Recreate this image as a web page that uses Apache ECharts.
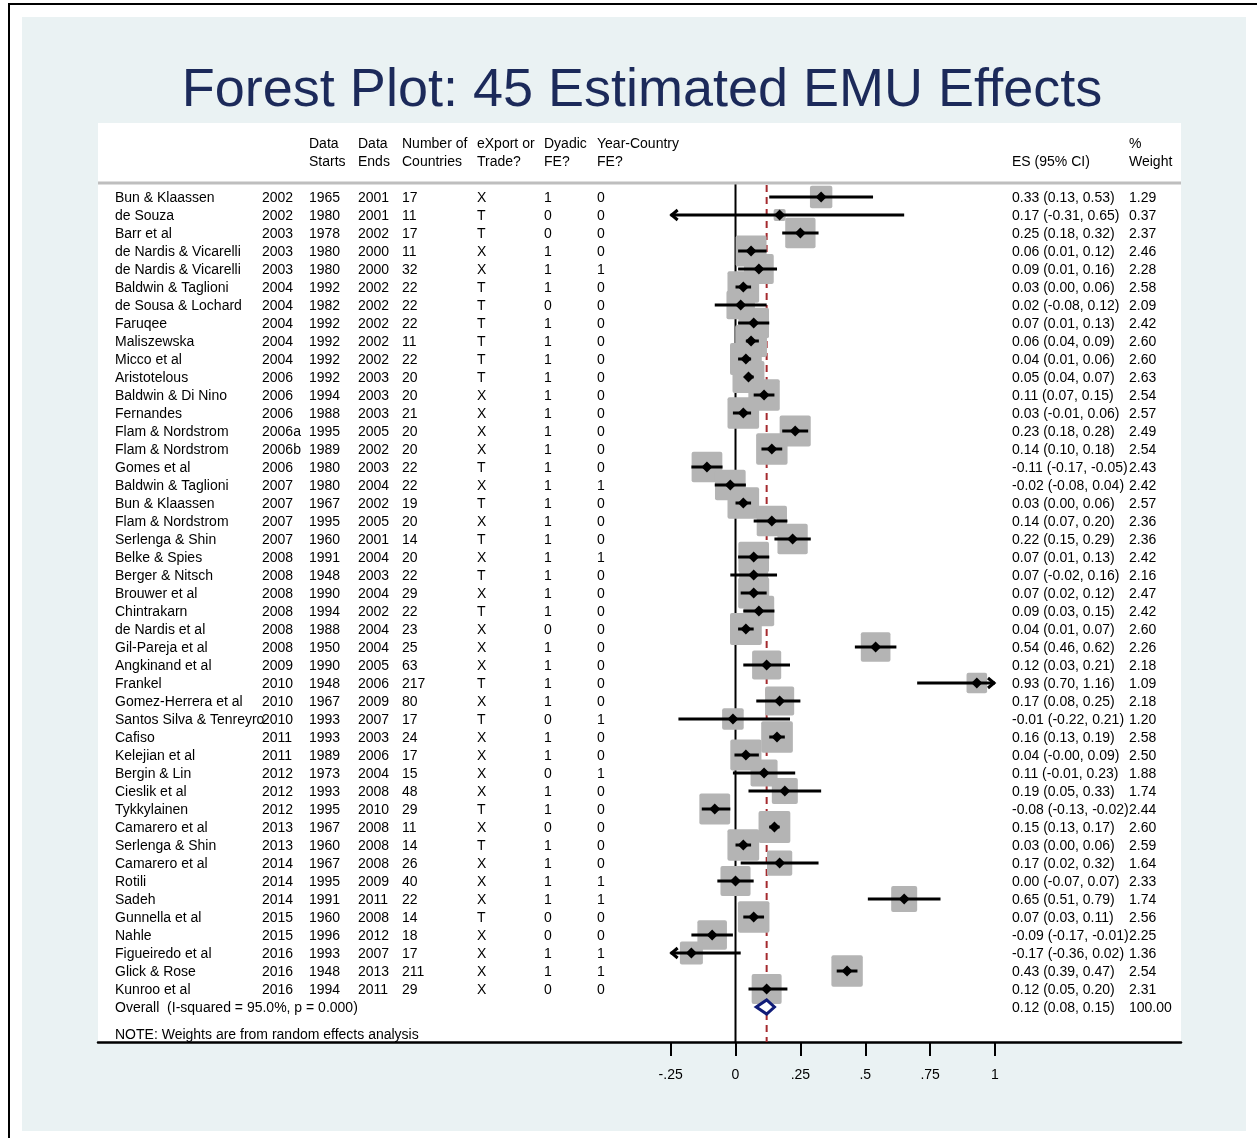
<!DOCTYPE html>
<html><head><meta charset="utf-8">
<script src="https://cdn.jsdelivr.net/npm/echarts@6/dist/echarts.min.js"></script>
<style>html,body{margin:0;padding:0;background:#fff}#c{width:1257px;height:1138px}</style>
</head><body><div id="c"></div>
<script>
// ---------------- data ----------------
const studies = ['Bun & Klaassen','de Souza','Barr et al','de Nardis & Vicarelli','de Nardis & Vicarelli','Baldwin & Taglioni','de Sousa & Lochard','Faruqee','Maliszewska','Micco et al','Aristotelous','Baldwin & Di Nino','Fernandes','Flam & Nordstrom','Flam & Nordstrom','Gomes et al','Baldwin & Taglioni','Bun & Klaassen','Flam & Nordstrom','Serlenga & Shin','Belke & Spies','Berger & Nitsch','Brouwer et al','Chintrakarn','de Nardis et al','Gil-Pareja et al','Angkinand et al','Frankel','Gomez-Herrera et al','Santos Silva & Tenreyro','Cafiso','Kelejian et al','Bergin & Lin','Cieslik et al','Tykkylainen','Camarero et al','Serlenga & Shin','Camarero et al','Rotili','Sadeh','Gunnella et al','Nahle','Figueiredo et al','Glick & Rose','Kunroo et al'];
const pubYear = ['2002','2002','2003','2003','2003','2004','2004','2004','2004','2004','2006','2006','2006','2006a','2006b','2006','2007','2007','2007','2007','2008','2008','2008','2008','2008','2008','2009','2010','2010','2010','2011','2011','2012','2012','2012','2013','2013','2014','2014','2014','2015','2015','2016','2016','2016'];
const dataStart = [1965,1980,1978,1980,1980,1992,1982,1992,1992,1992,1992,1994,1988,1995,1989,1980,1980,1967,1995,1960,1991,1948,1990,1994,1988,1950,1990,1948,1967,1993,1993,1989,1973,1993,1995,1967,1960,1967,1995,1991,1960,1996,1993,1948,1994];
const dataEnd = [2001,2001,2002,2000,2000,2002,2002,2002,2002,2002,2003,2003,2003,2005,2002,2003,2004,2002,2005,2001,2004,2003,2004,2002,2004,2004,2005,2006,2009,2007,2003,2006,2004,2008,2010,2008,2008,2008,2009,2011,2008,2012,2007,2013,2011];
const nCountries = [17,11,17,11,32,22,22,22,11,22,20,20,21,20,20,22,22,19,20,14,20,22,29,22,23,25,63,217,80,17,24,17,15,48,29,11,14,26,40,22,14,18,17,211,29];
const exportTrade = ['X','T','T','X','X','T','T','T','T','T','T','X','X','X','X','T','X','T','X','T','X','T','X','T','X','X','X','T','X','T','X','X','X','X','T','X','T','X','X','X','T','X','X','X','X'];
const dyadicFE = [1,0,0,1,1,1,0,1,1,1,1,1,1,1,1,1,1,1,1,1,1,1,1,1,0,1,1,1,1,0,1,1,0,1,1,0,1,1,1,1,0,0,1,1,0];
const yearCountryFE = [0,0,0,0,1,0,0,0,0,0,0,0,0,0,0,0,1,0,0,0,1,0,0,0,0,0,0,0,0,1,0,0,1,0,0,0,0,0,1,1,0,0,1,1,0];
const es = [0.33,0.17,0.25,0.06,0.09,0.03,0.02,0.07,0.06,0.04,0.05,0.11,0.03,0.23,0.14,-0.11,-0.02,0.03,0.14,0.22,0.07,0.07,0.07,0.09,0.04,0.54,0.12,0.93,0.17,-0.01,0.16,0.04,0.11,0.19,-0.08,0.15,0.03,0.17,0.00,0.65,0.07,-0.09,-0.17,0.43,0.12];
const ciLow = [0.13,-0.31,0.18,0.01,0.01,0.00,-0.08,0.01,0.04,0.01,0.04,0.07,-0.01,0.18,0.10,-0.17,-0.08,0.00,0.07,0.15,0.01,-0.02,0.02,0.03,0.01,0.46,0.03,0.70,0.08,-0.22,0.13,-0.004,-0.01,0.05,-0.13,0.13,0.00,0.02,-0.07,0.51,0.03,-0.17,-0.36,0.39,0.05];
const ciHigh = [0.53,0.65,0.32,0.12,0.16,0.06,0.12,0.13,0.09,0.06,0.07,0.15,0.06,0.28,0.18,-0.05,0.04,0.06,0.20,0.29,0.13,0.16,0.12,0.15,0.07,0.62,0.21,1.16,0.25,0.21,0.19,0.09,0.23,0.33,-0.02,0.17,0.06,0.32,0.07,0.79,0.11,-0.01,0.02,0.47,0.20];
const weight = [1.29,0.37,2.37,2.46,2.28,2.58,2.09,2.42,2.60,2.60,2.63,2.54,2.57,2.49,2.54,2.43,2.42,2.57,2.36,2.36,2.42,2.16,2.47,2.42,2.60,2.26,2.18,1.09,2.18,1.20,2.58,2.50,1.88,1.74,2.44,2.60,2.59,1.64,2.33,1.74,2.56,2.25,1.36,2.54,2.31];
const overallLabel = 'Overall  (I-squared = 95.0%, p = 0.000)';
const overallES = 0.12, overallLow = 0.08, overallHigh = 0.15, overallWeight = 100.00;
const tickValues = [-0.25, 0, 0.25, 0.5, 0.75, 1];
const tickLabels = ['-.25', '0', '.25', '.5', '.75', '1'];
const headerLine1 = ['Data', 'Data', 'Number of', 'eXport or', 'Dyadic', 'Year-Country', '', '%'];
const headerLine2 = ['Starts', 'Ends', 'Countries', 'Trade?', 'FE?', 'FE?', 'ES (95% CI)', 'Weight'];
const titleText = 'Forest Plot: 45 Estimated EMU Effects';
const noteText = 'NOTE: Weights are from random effects analysis';

// ---------------- layout ----------------
const FONT = '14px "Liberation Sans", Arial, Helvetica, sans-serif';
const colX = [115, 262, 309, 358, 402, 477, 544, 597, 1012, 1129];
const headX = [309, 358, 402, 477, 544, 597, 1012, 1129];
const clipMin = -0.25, clipMax = 1.0;      // plotted CI range
const xMin = -2.4568, xMax = 1.7168;       // axis extent across the panel
const yMin = -4.111, yMax = 46.944;        // row axis extent
const ruleRow = -0.78;                     // header rule row position
const overallRow = studies.length;
const textDy = 1;
const fmt = v => v.toFixed(2);

const chart = echarts.init(document.getElementById('c'), null, {renderer: 'canvas'});

function txt(x, y, t, extra) {
  return Object.assign({type: 'text', x: x, y: y, style: {text: t, font: FONT, fill: '#000', align: 'left', verticalAlign: 'middle'}}, extra || {});
}

const rowData = studies.map((s, i) => [i, es[i], ciLow[i], ciHigh[i], weight[i]]);

const option = {
  animation: false,
  backgroundColor: '#ffffff',
  grid: {left: 98, right: 1257 - 1181, top: 123, bottom: 1138 - 1042, containLabel: false},
  xAxis: {
    type: 'value', min: xMin, max: xMax,
    axisLine: {show: true, onZero: false, lineStyle: {color: '#000', width: 2.5}},
    axisTick: {show: true, customValues: tickValues, length: 14, lineStyle: {color: '#000', width: 2}},
    axisLabel: {show: true, customValues: tickValues, margin: 26, color: '#000', fontSize: 14,
      fontFamily: '"Liberation Sans", Arial, sans-serif',
      formatter: v => { const k = tickValues.findIndex(t => Math.abs(t - v) < 1e-9); return k >= 0 ? tickLabels[k] : ''; }},
    splitLine: {show: false}
  },
  yAxis: {type: 'value', min: yMin, max: yMax, inverse: true, show: false, splitLine: {show: false}},
  graphic: [
    {type: 'rect', z: -30, shape: {x: 9, y: 4, width: 1400, height: 1300}, style: {fill: '#fff', stroke: '#000', lineWidth: 2}, silent: true},
    {type: 'rect', z: -20, shape: {x: 22, y: 17, width: 1224, height: 1114}, style: {fill: '#EAF2F3'}, silent: true},
    {type: 'rect', z: -10, shape: {x: 98, y: 123, width: 1083, height: 919}, style: {fill: '#fff'}, silent: true},
    {type: 'text', z: 10, x: 642, y: 91, style: {text: titleText, font: '54px "Liberation Sans", Arial, sans-serif', fill: '#1C2A5A', align: 'center', verticalAlign: 'middle'}},
    {type: 'line', z: 5, shape: {x1: 98, y1: 183, x2: 1181, y2: 183}, style: {stroke: '#BEBEBE', lineWidth: 3}},
  ].concat(
    headerLine1.map((t, k) => txt(headX[k], 144, t, {z: 10})),
    headerLine2.map((t, k) => txt(headX[k], 162, t, {z: 10})),
    [txt(115, 1035, noteText, {z: 10})]
  ),
  series: [
    { // reference lines: null line and overall estimate
      type: 'custom', z: 1, clip: false,
      data: [[0, 0], [1, overallES]],
      renderItem: function (params, api) {
        const x = api.value(1);
        const p1 = api.coord([x, ruleRow]);
        const p2 = api.coord([x, yMax]);
        if (api.value(0) === 0) {
          return {type: 'line', shape: {x1: p1[0], y1: p1[1], x2: p2[0], y2: p2[1]}, style: {stroke: '#000', lineWidth: 2}};
        }
        return {type: 'line', shape: {x1: p1[0], y1: p1[1] + 2, x2: p2[0], y2: p2[1]}, style: {stroke: '#A52A2E', lineWidth: 2, lineDash: [7, 5]}};
      }
    },
    { // weight boxes
      type: 'custom', z: 2, clip: false,
      data: rowData,
      renderItem: function (params, api) {
        const c = api.coord([api.value(1), api.value(0)]);
        const rowPx = api.size([0, 1])[1];
        const s = rowPx * 1.095 * Math.sqrt(api.value(4));
        return {type: 'rect', shape: {x: c[0] - s / 2, y: c[1] - s / 2, width: s, height: s, r: 2}, style: {fill: '#B4B4B4'}};
      }
    },
    { // confidence intervals and point estimates
      type: 'custom', z: 3, clip: false,
      data: rowData,
      renderItem: function (params, api) {
        const i = api.value(0), e = api.value(1), lo = api.value(2), hi = api.value(3);
        const a = api.coord([Math.max(lo, clipMin), i]);
        const b = api.coord([Math.min(hi, clipMax), i]);
        const c = api.coord([e, i]);
        const kids = [
          {type: 'line', shape: {x1: a[0], y1: a[1], x2: b[0], y2: b[1]}, style: {stroke: '#000', lineWidth: 3}},
          {type: 'polygon', shape: {points: [[c[0], c[1] - 5.5], [c[0] + 5.5, c[1]], [c[0], c[1] + 5.5], [c[0] - 5.5, c[1]]]}, style: {fill: '#000'}}
        ];
        if (lo < clipMin) kids.push({type: 'polyline', shape: {points: [[a[0] + 7, a[1] - 5], [a[0] + 1, a[1]], [a[0] + 7, a[1] + 5]]}, style: {stroke: '#000', lineWidth: 3, fill: null}});
        if (hi > clipMax) kids.push({type: 'polyline', shape: {points: [[b[0] - 7, b[1] - 5], [b[0] - 1, b[1]], [b[0] - 7, b[1] + 5]]}, style: {stroke: '#000', lineWidth: 3, fill: null}});
        return {type: 'group', children: kids};
      }
    },
    { // overall diamond
      type: 'custom', z: 4, clip: false,
      data: [[overallRow, overallES, overallLow, overallHigh]],
      renderItem: function (params, api) {
        const i = api.value(0);
        const l = api.coord([api.value(2), i]), r = api.coord([api.value(3), i]), m = api.coord([api.value(1), i]);
        return {type: 'polygon', shape: {points: [[l[0], l[1]], [m[0], m[1] - 7], [r[0], r[1]], [m[0], m[1] + 7]]}, style: {fill: '#fff', stroke: '#101C78', lineWidth: 3}};
      }
    },
    { // table text
      type: 'custom', z: 6, clip: false,
      data: studies.map((s, i) => [i]).concat([[overallRow]]),
      renderItem: function (params, api) {
        const i = api.value(0);
        const y = api.coord([0, i])[1] + textDy;
        let cells;
        if (i < studies.length) {
          cells = [studies[i], pubYear[i], String(dataStart[i]), String(dataEnd[i]), String(nCountries[i]), exportTrade[i], String(dyadicFE[i]), String(yearCountryFE[i]),
            fmt(es[i]) + ' (' + fmt(ciLow[i]) + ', ' + fmt(ciHigh[i]) + ')', fmt(weight[i])];
        } else {
          cells = [overallLabel, '', '', '', '', '', '', '', fmt(overallES) + ' (' + fmt(overallLow) + ', ' + fmt(overallHigh) + ')', fmt(overallWeight)];
        }
        return {type: 'group', children: cells.map((t, k) => txt(colX[k], y, t))};
      }
    }
  ]
};
chart.setOption(option);
</script>
</body></html>
